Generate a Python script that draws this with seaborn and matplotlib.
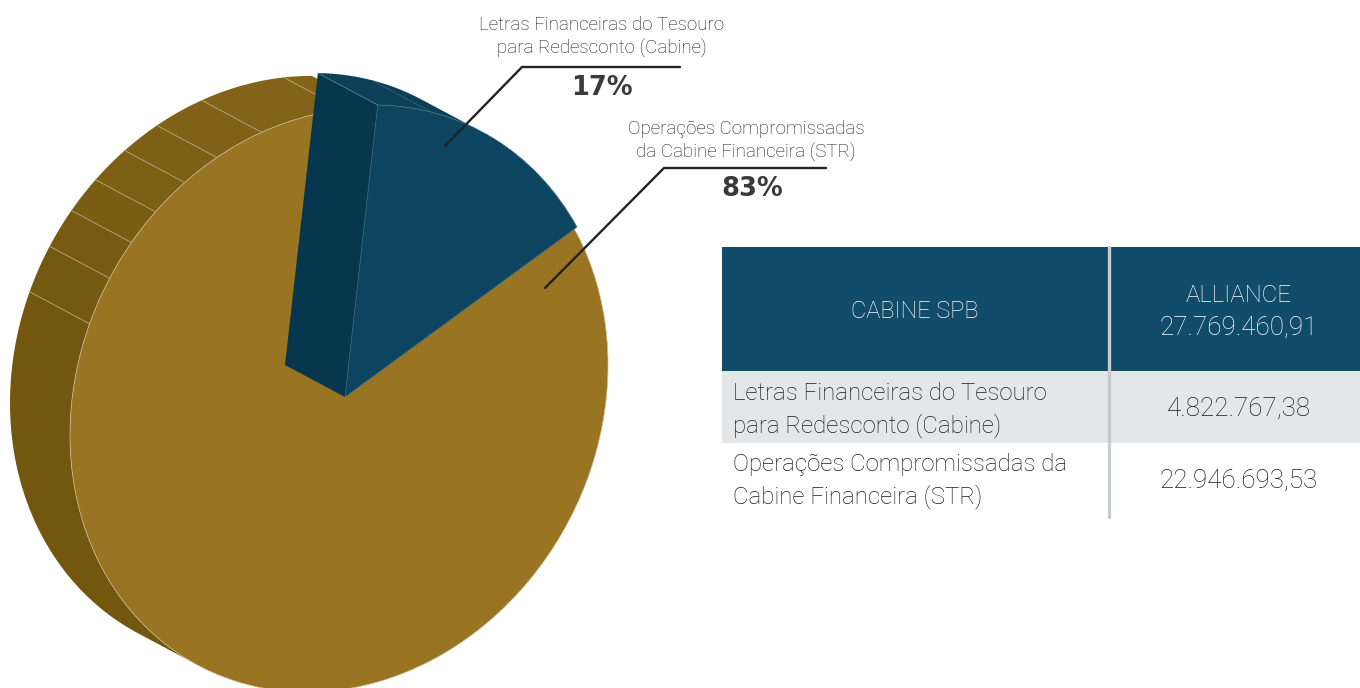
import numpy as np
import matplotlib
matplotlib.use("Agg")
import matplotlib.pyplot as plt
from matplotlib.transforms import Affine2D
import seaborn as sns

# Slice shares as they are drawn in the picture (the printed labels say 17/83)
SLICE_NAMES = ["Letras", "Operacoes"]
SLICE_SHARES = [14.9, 85.1]
SLICE_PERCENT = ["17%", "83%"]
SLICE_LABELS = [
    "Letras Financeiras do Tesouro\npara Redesconto (Cabine)",
    "Operações Compromissadas\nda Cabine Financeira (STR)",
]

# Table
TABLE_HEADER = ["CABINE SPB", "ALLIANCE", "27.769.460,91"]
TABLE_ROWS = [
    "Letras Financeiras do Tesouro\npara Redesconto (Cabine)",
    "Operações Compromissadas da\nCabine Financeira (STR)",
]
TABLE_VALUES = ["4.822.767,38", "22.946.693,53"]

# Colors
GOLD = "#997422"
GOLD_SIDE_LOW = "#73570f"
GOLD_SIDE_HIGH = "#85641a"
BLUE = "#0d4560"
BLUE_WALL = "#06374f"
BLUE_RIM = "#0c4059"
HEADER = "#114d6b"
ROW_GREY = "#e5e6e8"
DIVIDER = "#c8cbce"
TEXT = "#1c1c1c"
LEADER = "#222222"

# Side facet boundaries around the rim, in pie degrees
FACET_ANGLES = [239, 158, 148.5, 140.5, 133, 125, 117, 106.7, 89, 83]

sns.set_theme(style="white")
plt.rcParams["font.family"] = ["Roboto", "DejaVu Sans"]

fig = plt.figure(figsize=(13.6, 6.88), dpi=100)
ax = fig.add_axes([0, 0, 1, 1])

# Unit circle -> tilted ellipse in pixel space (y runs down).
# The gold disc sits a little off the blue slice's apex.
BLUE_FRAME = (266.0, -32.0, 0.0, -290.2, 345, 397)
GOLD_FRAME = (269.0, -35.0, 0.0, -290.0, 339, 400)
SHIFT = np.array([-60, -32])


def rim(angles, frame, shift=(0, 0)):
    a, c, b, d, ox, oy = frame
    t = np.radians(angles)
    return (
        a * np.cos(t) + b * np.sin(t) + ox + shift[0],
        c * np.cos(t) + d * np.sin(t) + oy + shift[1],
    )


def band(a0, a1, frame, color, z):
    angles = np.linspace(a0, a1, 60)
    x0, y0 = rim(angles, frame)
    x1, y1 = rim(angles, frame, SHIFT)
    ax.fill(np.r_[x0, x1[::-1]], np.r_[y0, y1[::-1]], color=color, lw=0, zorder=z)


# Pie faces, mapped through the ellipses
wedges, _ = ax.pie(
    SLICE_SHARES,
    colors=[BLUE, GOLD],
    startangle=29.3,
    wedgeprops={"edgecolor": "#cdbd94", "linewidth": 0.5},
)
wedges[0].set_transform(Affine2D.from_values(*BLUE_FRAME) + ax.transData)
wedges[1].set_transform(Affine2D.from_values(*GOLD_FRAME) + ax.transData)
wedges[0].set_edgecolor("#3f6d85")
wedges[0].set_zorder(5)
wedges[1].set_zorder(3)
# close the gold under the blue so the shifted apex leaves no gap
wedges[1].set_theta1(60)
wedges[1].set_theta2(420)

# Gold side, one facet at a time
facet_colors = sns.blend_palette([GOLD_SIDE_LOW, GOLD_SIDE_HIGH], len(FACET_ANGLES) - 1)
for a0, a1, color in zip(FACET_ANGLES[:-1], FACET_ANGLES[1:], facet_colors):
    band(a0, a1, GOLD_FRAME, color, 1)
for a in FACET_ANGLES[1:-1]:
    x0, y0 = rim(a, GOLD_FRAME)
    x1, y1 = rim(a, GOLD_FRAME, SHIFT)
    ax.plot([x0, x1], [y0, y1], color="#b3a274", lw=0.6, zorder=2)

# Blue side: rim on top and the flat wall on the left
band(59, 82.9, BLUE_FRAME, BLUE_RIM, 4)
px, py = rim(82.9, BLUE_FRAME)
sx, sy = rim(82.9, BLUE_FRAME, SHIFT)
ox, oy = BLUE_FRAME[4:]
ax.fill(
    [ox, px, sx, ox + SHIFT[0]],
    [oy, py, sy, oy + SHIFT[1]],
    color=BLUE_WALL,
    lw=0,
    zorder=4,
)
ax.plot([px, sx], [py, sy], color="#4f7a90", lw=0.6, zorder=6)
x0, y0 = rim(71, BLUE_FRAME)
x1, y1 = rim(71, BLUE_FRAME, SHIFT)
ax.plot([x0, x1], [y0, y1], color="#2f6078", lw=0.6, zorder=4.5)

# Leader lines and labels
ax.plot([445, 522, 680], [146, 67, 67], color=LEADER, lw=1.7, zorder=7, solid_joinstyle="miter")
ax.plot([545, 664, 826], [288, 168, 168], color=LEADER, lw=1.7, zorder=7, solid_joinstyle="miter")
for (lx, ly, py_, px_), label, pct in zip(
    [(602, 37, 88, 602), (746, 141, 189, 752)], SLICE_LABELS, SLICE_PERCENT
):
    ax.text(lx, ly, label, ha="center", va="center", fontsize=13.5, color=TEXT,
            linespacing=1.39, fontweight="light", zorder=8)
    ax.text(px_, py_, pct, ha="center", va="center", fontsize=18.5,
            color="#3a3a3a", fontweight="bold", family="DejaVu Sans", zorder=8)

# Table
ax.fill([722, 1360, 1360, 722], [247, 247, 371, 371], color=HEADER, lw=0, zorder=1)
ax.fill([722, 1360, 1360, 722], [371, 371, 443, 443], color=ROW_GREY, lw=0, zorder=1)
ax.plot([1108.5, 1108.5], [247, 517], color=DIVIDER, lw=2.4, zorder=2)

ax.text(915, 312, TABLE_HEADER[0], ha="center", va="center", fontsize=17, color="white", fontweight="light")
ax.text(1239, 296, TABLE_HEADER[1], ha="center", va="center", fontsize=17.3, color="white", fontweight="light")
ax.text(1239, 328, TABLE_HEADER[2], ha="center", va="center", fontsize=18.7, color="white", fontweight="light")
for y_label, y_value, label, value in zip([410, 481], [409, 481], TABLE_ROWS, TABLE_VALUES):
    ax.text(733, y_label, label, ha="left", va="center", fontsize=17.3, color=TEXT,
            linespacing=1.42, fontweight="light")
    ax.text(1239, y_value, value, ha="center", va="center", fontsize=18.7, color=TEXT, fontweight="light")

ax.set_xlim(0, 1360)
ax.set_ylim(688, 0)
ax.axis("off")

fig.savefig("out.png", dpi=100)
plt.close(fig)
